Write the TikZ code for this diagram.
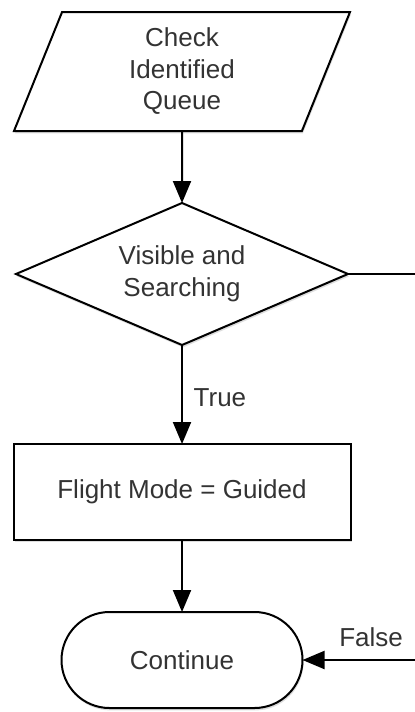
\documentclass[tikz,border=0pt]{standalone}
\usepackage{fontspec}
\setmainfont{Liberation Sans}
\usetikzlibrary{shapes.geometric,arrows.meta,positioning,shadows}
\definecolor{txt}{RGB}{51, 51, 51}
\definecolor{shade}{RGB}{120, 120, 120}

\begin{document}
\begin{tikzpicture}[
        font=\fontsize{13}{15.75}\selectfont,
        every node/.style={text=txt, align=center},
        box/.style={
            draw, line width=1pt, fill=white, outer sep=0pt,
            drop shadow={opacity=0.25, fill=shade, shadow xshift=0.5pt, shadow yshift=-1.2pt}
        },
        inout/.style={
            box, trapezium, trapezium left angle=61, trapezium right angle=119,
            trapezium stretches body, minimum width=168pt, minimum height=59.5pt, inner sep=0pt
        },
        decision/.style={
            box, diamond, aspect=2.3, minimum width=166pt, minimum height=71pt, inner sep=0pt
        },
        process/.style={box, rectangle, minimum width=168.5pt, minimum height=48pt},
        terminal/.style={box, rectangle, rounded corners=24pt, minimum width=120.5pt, minimum height=48pt},
        flow/.style={line width=1pt, -{Triangle[width=9pt,length=11pt]}},
        node distance=36pt
    ]
    \useasboundingbox (0,0) rectangle (207.5pt,-356pt);

    % boxes
    \node[inout] (check) at (91pt,-35.75pt) {Check\\Identified\\Queue};
    \node[decision, below=of check] (visible) {Visible and\\Searching};
    \node[process, below=49.5pt of visible] (guided) {Flight Mode = Guided};
    \node[terminal, below=of guided] (cont) {Continue};

    % false branch runs off the right edge
    \coordinate (edge) at (207.5pt,0);

    % connectors
    \draw[flow] (check) -- (visible);
    \draw[flow] (visible) -- node[right=2pt, pos=0.53] {True} (guided);
    \draw[flow] (guided) -- (cont);
    \draw[line width=1pt] (visible.east) -- (visible.east -| edge);
    \draw[flow] (cont.east -| edge) -- node[above=3pt, pos=0.39] {False} (cont.east);

\end{tikzpicture}
\end{document}
